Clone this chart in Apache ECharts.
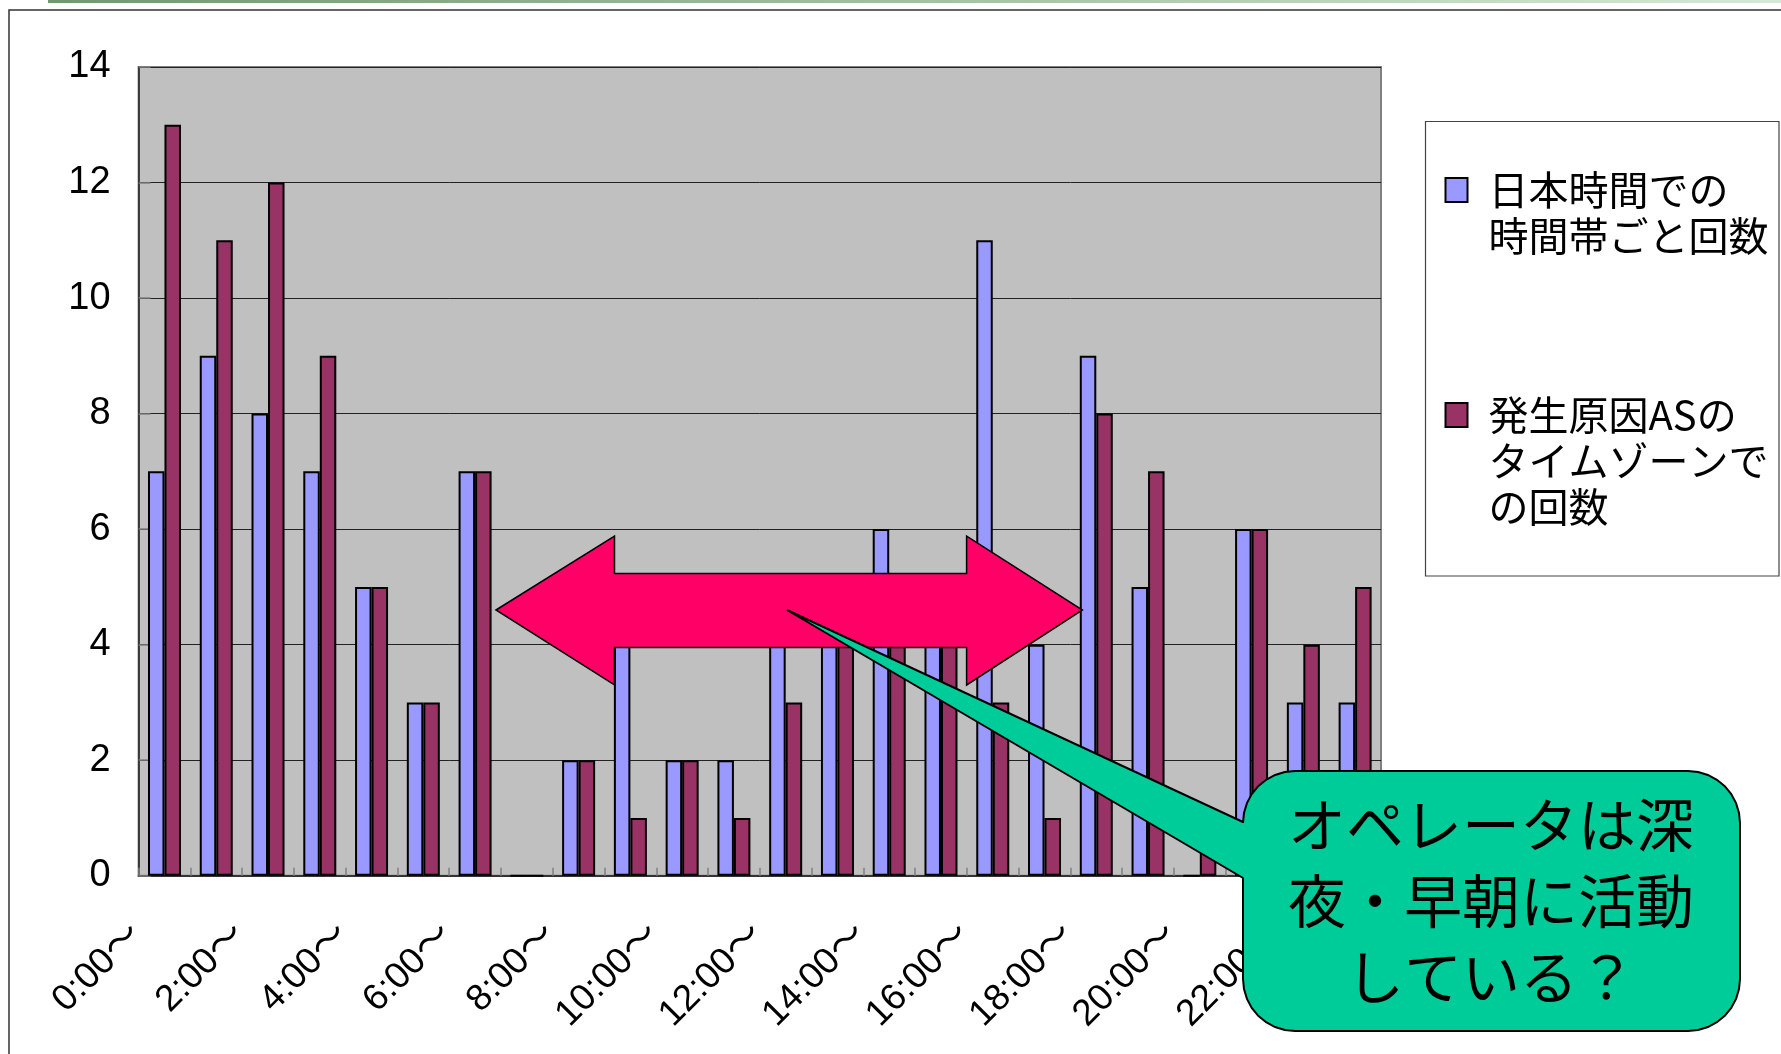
<!DOCTYPE html>
<html>
<head>
<meta charset="utf-8">
<script src="https://cdn.jsdelivr.net/npm/echarts@6/dist/echarts.min.js"></script>
<style>
  html, body { margin: 0; padding: 0; background: #fff; }
  #main { width: 1781px; height: 1054px; }
</style>
</head>
<body>
<div id="main"></div>
<script>
// hour-of-day buckets
var hours = ['0:00〜', '1:00〜', '2:00〜', '3:00〜', '4:00〜', '5:00〜', '6:00〜', '7:00〜',
  '8:00〜', '9:00〜', '10:00〜', '11:00〜', '12:00〜', '13:00〜', '14:00〜', '15:00〜',
  '16:00〜', '17:00〜', '18:00〜', '19:00〜', '20:00〜', '21:00〜', '22:00〜', '23:00〜']

// counts per bucket
var jpTime = [7, 9, 8, 7, 5, 3, 7, 0, 2, 4, 2, 2, 4, 4, 6, 4, 11, 4, 9, 5, 0, 6, 3, 3]
var asTime = [13, 11, 12, 9, 5, 3, 7, 0, 2, 1, 2, 1, 3, 4, 4, 4, 3, 1, 8, 7, 1, 6, 4, 5]

var seriesNames = ['日本時間での時間帯ごと回数', '発生原因ASのタイムゾーンでの回数']
// legend text is split the way the original wraps it
var legendLines = [
  ['日本時間での', '時間帯ごと回数'],
  ['発生原因ASの', 'タイムゾーンで', 'の回数']
]
var yTicks = [0, 2, 4, 6, 8, 10, 12, 14]

var noteText = 'オペレータは深\n夜・早朝に活動\nしている？'

var jpFont = '"Noto Sans CJK JP", sans-serif'
var numFont = '"Liberation Sans", Arial, "Noto Sans CJK JP", sans-serif'

var chart = echarts.init(document.getElementById('main'), null, { renderer: 'canvas' })

var barStyle = function (color) {
  return { color: color, borderColor: '#000', borderWidth: 2 }
}

// outline of the rounded speech bubble with its tail
function bubblePoints (x0, y0, x1, y1, r, tip, tailTop, tailBottom) {
  var pts = []
  var corner = function (cx, cy, a0) {
    for (var i = 0; i <= 8; i++) {
      var a = (a0 + i * 90 / 8) * Math.PI / 180
      pts.push([cx + r * Math.cos(a), cy + r * Math.sin(a)])
    }
  }
  corner(x0 + r, y0 + r, 180)  // top-left
  corner(x1 - r, y0 + r, 270)  // top-right
  corner(x1 - r, y1 - r, 0)    // bottom-right
  corner(x0 + r, y1 - r, 90)   // bottom-left
  pts.push([x0, tailBottom], tip, [x0, tailTop])
  return pts
}

var option = {
  animation: false,
  backgroundColor: '#fff',
  grid: {
    left: 138.6, right: 400, top: 67, bottom: 178.3,
    show: true, backgroundColor: '#C0C0C0', borderColor: '#808080', borderWidth: 2
  },
  legend: {
    orient: 'vertical',
    left: 1444.5, top: 121, padding: 0,
    itemWidth: 22, itemHeight: 24, itemGap: 41,
    icon: 'rect',
    itemStyle: { borderColor: '#000', borderWidth: 2 },
    data: seriesNames,
    formatter: function (name) {
      var lines = legendLines[seriesNames.indexOf(name)]
      // pad with blank lines above so the icon sits on the first line
      var pad = []
      for (var i = 1; i < lines.length; i++) pad.push('')
      return pad.concat(lines).join('\n')
    },
    textStyle: { fontFamily: jpFont, fontSize: 40, lineHeight: 46, color: '#000', padding: [0, 0, 0, 16] }
  },
  xAxis: {
    type: 'category',
    data: hours,
    boundaryGap: true,
    axisLine: { lineStyle: { color: '#333', width: 2 } },
    axisTick: { show: true, inside: true, length: 8, interval: 0, lineStyle: { color: '#808080', width: 1.5 } },
    axisLabel: {
      interval: 1, rotate: 45, margin: 25, padding: [0, 40, 0, 0],
      fontFamily: numFont, fontSize: 37, color: '#000'
    },
    splitLine: { show: false }
  },
  yAxis: {
    type: 'value',
    min: yTicks[0], max: yTicks[yTicks.length - 1], interval: 2,
    axisLine: { show: true, lineStyle: { color: '#222', width: 1.5 } },
    axisTick: { show: true, inside: true, length: 12, lineStyle: { color: '#808080', width: 1.5 } },
    axisLabel: { margin: 28, fontFamily: numFont, fontSize: 38, color: '#000' },
    splitLine: { lineStyle: { color: '#222', width: 1 } }
  },
  series: [
    { name: seriesNames[0], type: 'bar', data: jpTime, barWidth: 16.5, barGap: '0%', itemStyle: barStyle('#9999FF') },
    { name: seriesNames[1], type: 'bar', data: asTime, barWidth: 16.5, barGap: '0%', itemStyle: barStyle('#993366') }
  ],
  graphic: [
    // slide header rule and the chart frame
    { type: 'rect', z: 1, silent: true, shape: { x: 48, y: 0, width: 1733, height: 3 },
      style: { fill: new echarts.graphic.LinearGradient(0, 0, 1, 0, [{ offset: 0, color: '#6e9a6e' }, { offset: 1, color: '#d6e8d6' }]) } },
    { type: 'polyline', z: 1, silent: true, shape: { points: [[9, 1054], [9, 10], [1781, 10]] },
      style: { stroke: '#333', lineWidth: 1.5, fill: null } },
    // legend frame
    { type: 'rect', z: 1, silent: true, shape: { x: 1425.5, y: 121.5, width: 353.5, height: 454.5 },
      style: { fill: '#fff', stroke: '#444', lineWidth: 1.2 } },
    // double arrow
    { type: 'polygon', z: 100, silent: true,
      shape: { points: [[496, 610], [614.5, 536], [614.5, 573.6], [966.6, 573.6], [966.6, 536], [1082.4, 610],
        [966.6, 685], [966.6, 647.4], [614.5, 647.4], [614.5, 685]] },
      style: { fill: '#FF0066', stroke: '#000', lineWidth: 1.5 } },
    // speech bubble
    { type: 'polygon', z: 101, silent: true,
      shape: { points: bubblePoints(1243, 771, 1740, 1031, 52, [787, 610], 822, 878) },
      style: { fill: '#00CC99', stroke: '#000', lineWidth: 2 } },
    { type: 'text', z: 102, silent: true, x: 1491, y: 901,
      style: { text: noteText, fontFamily: jpFont, fontSize: 58, lineHeight: 76, fill: '#000', align: 'center', verticalAlign: 'middle' } }
  ]
}

chart.setOption(option)
</script>
</body>
</html>
